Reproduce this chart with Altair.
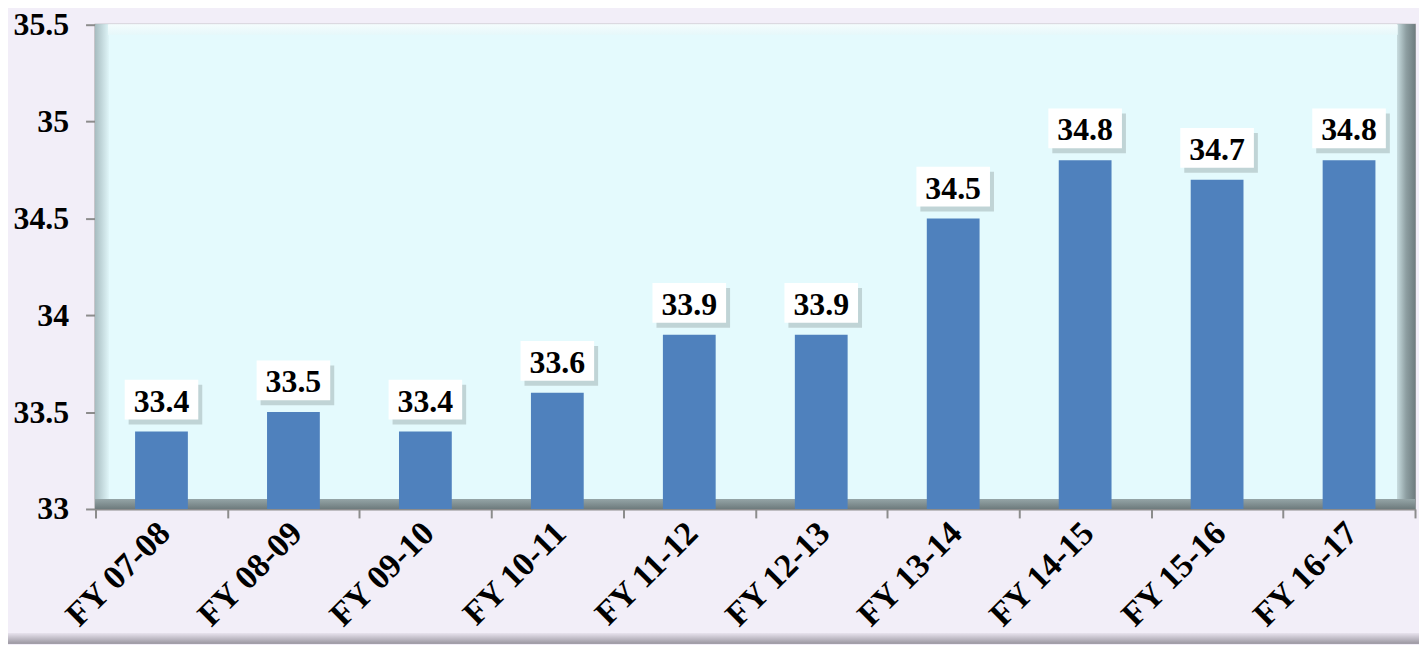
import altair as alt
import pandas as pd

years = ["FY 07-08", "FY 08-09", "FY 09-10", "FY 10-11", "FY 11-12",
         "FY 12-13", "FY 13-14", "FY 14-15", "FY 15-16", "FY 16-17"]
values = [33.4, 33.5, 33.4, 33.6, 33.9, 33.9, 34.5, 34.8, 34.7, 34.8]
y_ticks = [33, 33.5, 34, 34.5, 35, 35.5]
y_min, y_max = 33, 35.5

df = pd.DataFrame({"year": years, "value": values})

W, H = 1327, 487
FONT = "Liberation Serif"

xenc = alt.X("year:N", sort=years, title=None,
             scale=alt.Scale(paddingInner=0, paddingOuter=0),
             axis=alt.Axis(labelAngle=-45, labelAlign="right", labelBaseline="middle",
                           labelFont=FONT, labelFontSize=34, labelFontWeight="bold",
                           labelColor="black", labelPadding=10, labelOffset=3,
                           tickBand="extent", tickSize=9, tickColor="#8C8C8C",
                           tickWidth=2, domainColor="#8C8C8C", domainWidth=2))
yenc = alt.Y("value:Q", title=None,
             scale=alt.Scale(domain=[y_min, y_max], nice=False, zero=False),
             axis=alt.Axis(values=y_ticks, labelExpr="'' + datum.value",
                           labelFont=FONT, labelFontSize=32, labelFontWeight="bold",
                           labelColor="black", labelPadding=17, grid=False,
                           tickSize=10, tickColor="#8C8C8C", tickWidth=2,
                           domainColor="#8C8C8C", domainWidth=2))

def grad(stops, horizontal=True):
    return alt.Gradient(
        gradient="linear",
        stops=[alt.GradientStop(color=c, offset=o) for o, c in stops],
        x1=0, x2=1 if horizontal else 0, y1=0, y2=0 if horizontal else 1)

left_wall = alt.Chart(df).mark_rect(
    color=grad([(0, "#A9BEC2"), (1, "#DDF3F6")])
).encode(x=alt.value(0), x2=alt.value(13), y=alt.value(0), y2=alt.value(H))

right_wall = alt.Chart(df).mark_rect(
    color=grad([(0, "#C8DCDF"), (0.5, "#8E9FA2"), (1, "#6F7D80")])
).encode(x=alt.value(W - 18), x2=alt.value(W), y=alt.value(0), y2=alt.value(H))

top_bevel = alt.Chart(df).mark_rect(
    color=grad([(0, "#F4FCFD"), (1, "#E6F8FA")], horizontal=False)
).encode(x=alt.value(13), x2=alt.value(W - 18), y=alt.value(0), y2=alt.value(10))

floor = alt.Chart(df).mark_rect(
    color=grad([(0, "#95A5A7"), (1, "#6E7B7D")], horizontal=False)
).encode(x=alt.value(0), x2=alt.value(W), y=alt.value(H - 10), y2=alt.value(H))

page_bottom = alt.Chart(df).mark_rect(
    color=grad([(0, "#E6E1EC"), (1, "#9E9AA4")], horizontal=False)
).encode(x=alt.value(-96), x2=alt.value(W + 10), y=alt.value(612), y2=alt.value(622))

bars = alt.Chart(df).mark_bar(color="#4F81BD", width=alt.RelativeBandSize(0.4)).encode(
    x=xenc, y=yenc, y2=alt.datum(y_min))

box_path = "M-1,-0.54 L1,-0.54 L1,0.54 L-1,0.54 Z"
shadow = alt.Chart(df).mark_point(
    shape=box_path, size=37 * 37 * 4, filled=True, fill="#7F8C8D",
    opacity=0.35, strokeWidth=0, xOffset=4, yOffset=-27
).encode(x=alt.X("year:N", sort=years), y="value:Q")

boxes = alt.Chart(df).mark_point(
    shape=box_path, size=37 * 37 * 4, filled=True, fill="white",
    opacity=1, strokeWidth=0, yOffset=-32
).encode(x=alt.X("year:N", sort=years), y="value:Q")

labels = alt.Chart(df).mark_text(
    font=FONT, fontSize=32, fontWeight="bold", color="black",
    baseline="middle", dy=-30
).encode(x=alt.X("year:N", sort=years), y="value:Q",
         text=alt.Text("value:Q", format=".1f"))

chart = alt.layer(
    left_wall, right_wall, top_bevel, floor, page_bottom, bars, shadow, boxes, labels
).properties(
    width=W, height=H, background="#F2EEF8",
    autosize=alt.AutoSizeParams(type="none"),
    padding={"left": 88, "top": 15, "right": 4, "bottom": 135}
).configure_view(fill="#E4FAFD", stroke="#9A9A9A", strokeWidth=2)

chart.save("out.html", embed_options={"renderer": "svg", "actions": False})
